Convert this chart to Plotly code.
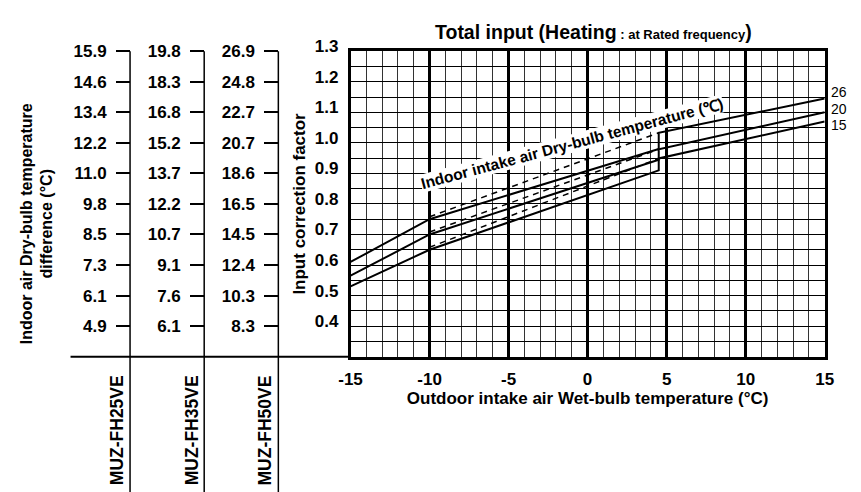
import plotly.graph_objects as go

W, H = 861, 492
FONT = "Liberation Sans, Arial, sans-serif"

# ---------------- data ----------------
outdoor_ticks = [-15, -10, -5, 0, 5, 10, 15]
factor_ticks = [1.3, 1.2, 1.1, 1.0, 0.9, 0.8, 0.7, 0.6, 0.5, 0.4]
factor_labels = ["1.3", "1.2", "1.1", "1.0", "0.9", "0.8", "0.7", "0.6", "0.5", "0.4"]

fh25_labels = ["15.9", "14.6", "13.4", "12.2", "11.0", "9.8", "8.5", "7.3", "6.1", "4.9"]
fh35_labels = ["19.8", "18.3", "16.8", "15.2", "13.7", "12.2", "10.7", "9.1", "7.6", "6.1"]
fh50_labels = ["26.9", "24.8", "22.7", "20.7", "18.6", "16.5", "14.5", "12.4", "10.3", "8.3"]
models = ["MUZ-FH25VE", "MUZ-FH35VE", "MUZ-FH50VE"]

indoor_temps = ["26", "20", "15"]
solid_x = [-15, -10, 4.5, 4.5, 15]
solid_26 = [0.61, 0.75, 0.98, 1.033, 1.145]
solid_20 = [0.565, 0.70, 0.945, 0.979, 1.10]
solid_15 = [0.53, 0.65, 0.91, 0.949, 1.07]
dashed_x = [-10, 4.5]
dashed_26 = [0.758, 1.033]
dashed_20 = [0.708, 0.979]
dashed_15 = [0.658, 0.949]

# ---------------- layout geometry (page pixels) ----------------
PL, PR, PT, PB = 347, 833, 38.3, 352.7
def px(xp):
    return xp / W
def py(yp):
    return 1 - yp / H

fig = go.Figure()

for ys in (solid_26, solid_20, solid_15):
    fig.add_trace(go.Scatter(x=solid_x, y=ys, mode="lines",
                             line=dict(color="black", width=2),
                             showlegend=False, hoverinfo="skip"))
for ys in (dashed_26, dashed_20, dashed_15):
    fig.add_trace(go.Scatter(x=dashed_x, y=ys, mode="lines",
                             line=dict(color="black", width=1.5, dash="6px,5px"),
                             showlegend=False, hoverinfo="skip"))

# empty traces to bind the side scale axes
for ax in ("y2", "y3", "y4"):
    fig.add_trace(go.Scatter(x=[None], y=[None], xaxis="x", yaxis=ax,
                             showlegend=False, hoverinfo="skip"))

bold17 = dict(family=FONT, size=17, color="black", weight="bold")

fig.update_layout(
    width=W, height=H,
    margin=dict(l=0, r=0, t=0, b=0),
    paper_bgcolor="white", plot_bgcolor="white",
    font=dict(family=FONT, color="black"),
    xaxis=dict(
        domain=[px(PL), px(PR)], range=[-15, 15],
        tickvals=outdoor_ticks, ticktext=[str(v) for v in outdoor_ticks],
        tickfont=bold17, ticks="", ticklabelstandoff=5,
        showgrid=True, gridcolor="black", gridwidth=3,
        minor=dict(dtick=1, showgrid=True, gridcolor="#333333", gridwidth=1),
        showline=True, linecolor="black", linewidth=2.5, mirror=True,
        zeroline=False,
        title=dict(text="<b>Outdoor intake air Wet-bulb temperature (°C)</b>",
                   font=dict(family=FONT, size=17, color="black"), standoff=2),
    ),
    yaxis=dict(
        domain=[py(PB), py(PT)], range=[0.3, 1.3],
        tickvals=factor_ticks, ticktext=factor_labels,
        tickfont=bold17, ticks="", ticklabelstandoff=6, ticklabelshift=-5,
        showgrid=True, gridcolor="black", gridwidth=1,
        minor=dict(dtick=0.05, tick0=0.3, showgrid=True, gridcolor="black", gridwidth=1),
        showline=True, linecolor="black", linewidth=2.5, mirror=True,
        zeroline=False,
        title=dict(text="<b>Input correction factor</b>",
                   font=dict(family=FONT, size=17, color="black"), standoff=5),
    ),
)

for name, pos, labels in (("yaxis2", 121, fh25_labels),
                          ("yaxis3", 197, fh35_labels),
                          ("yaxis4", 273, fh50_labels)):
    fig.update_layout(**{name: dict(
        overlaying="y", anchor="free", position=px(pos), side="left",
        domain=[py(PB), py(PT)], range=[0.3, 1.3],
        tickvals=factor_ticks, ticktext=labels, tickfont=bold17,
        ticks="outside", ticklen=14, tickwidth=1.5, tickcolor="black",
        ticklabelstandoff=6,
        showgrid=False, showline=False, zeroline=False,
    )})

shapes = []
for pos in (121, 197, 273):
    shapes.append(dict(type="line", xref="paper", yref="paper",
                       x0=px(pos), x1=px(pos), y0=0, y1=py(PT),
                       line=dict(color="black", width=1.5)))
shapes.append(dict(type="line", xref="paper", yref="paper",
                   x0=px(60), x1=px(PL), y0=py(PB), y1=py(PB),
                   line=dict(color="black", width=2)))
fig.update_layout(shapes=shapes)

ann = []
ann.append(dict(xref="paper", yref="paper", x=px(596), y=py(18.5),
                xanchor="center", yanchor="middle",
                text="<b>Total input (Heating</b><b><span style='font-size:13px'> : at Rated frequency</span>)</b>",
                showarrow=False, font=dict(family=FONT, size=19.5, color="black")))
ann.append(dict(xref="paper", yref="paper", x=px(574), y=py(133),
                xanchor="center", yanchor="middle",
                text="<b>Indoor intake air Dry-bulb temperature (℃)</b>",
                textangle=-15, showarrow=False, bgcolor="white", borderpad=0,
                font=dict(family=FONT, size=15.5, color="black")))
for lab, yp in zip(indoor_temps, (80, 97.5, 114.5)):
    ann.append(dict(xref="paper", yref="paper", x=px(837), y=py(yp),
                    xanchor="left", yanchor="middle", text=lab, showarrow=False,
                    font=dict(family=FONT, size=14, color="black")))
for m, xp in zip(models, (107.5, 184.5, 259.5)):
    ann.append(dict(xref="paper", yref="paper", x=px(xp), y=py(428.5),
                    xanchor="center", yanchor="middle",
                    text="<b>" + m + "</b>", textangle=-90, showarrow=False,
                    font=dict(family=FONT, size=17.5, color="black")))
ann.append(dict(xref="paper", yref="paper", x=px(25), y=py(216),
                xanchor="center", yanchor="middle",
                text="<b>Indoor air Dry-bulb temperature<br>difference (°C)</b>",
                textangle=-90, showarrow=False,
                font=dict(family=FONT, size=16, color="black")))
fig.update_layout(annotations=ann)

fig.write_html("out.html", config={"displayModeBar": False},
               post_script="document.body.style.margin='0px';document.body.style.overflow='hidden';")
